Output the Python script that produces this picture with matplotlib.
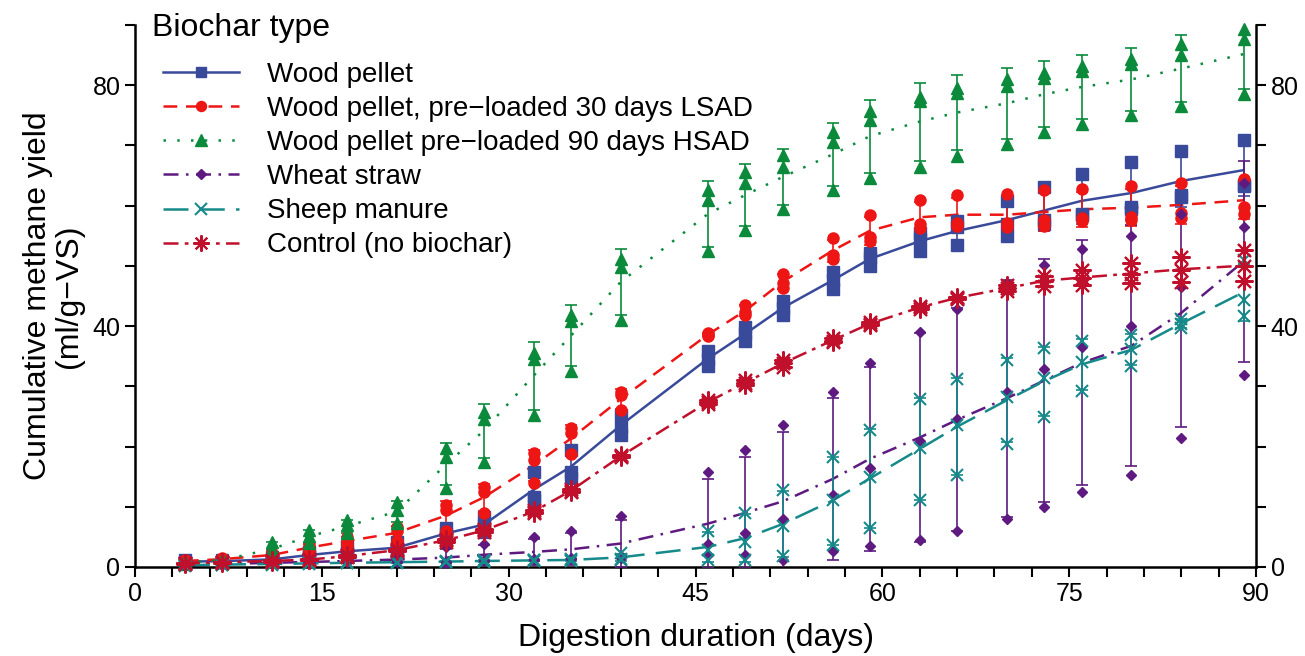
import numpy as np
import matplotlib
matplotlib.use("Agg")
import matplotlib.pyplot as plt
from matplotlib.lines import Line2D
from matplotlib.ticker import MultipleLocator

plt.rcParams['font.family'] = ['Liberation Sans', 'DejaVu Sans']

days = [4, 7, 11, 14, 17, 21, 25, 28, 32, 35, 39, 46, 49, 52, 56, 59, 63, 66, 70, 73, 76, 80, 84, 89]

# replicate readings (ml/g-VS), three replicates per series
wood_pellet = [
    [1.2, 1.2, 1.6, 2.5, 3.4, 4.2, 6.4, 8.3, 15.7, 19.4, 25.3, 35.9, 39.9, 44.2, 49.0, 52.2, 55.4, 57.5, 60.8, 63.1, 65.3, 67.2, 69.0, 70.9],
    [0.8, 0.9, 1.2, 1.8, 2.3, 2.8, 5.5, 7.0, 11.6, 15.8, 23.3, 34.6, 38.8, 43.0, 47.6, 51.3, 54.5, 56.4, 57.0, 57.6, 58.6, 59.7, 61.8, 63.5],
    [0.7, 0.8, 1.0, 1.7, 2.1, 2.6, 4.9, 5.8, 11.2, 14.8, 22.0, 33.3, 37.5, 41.9, 46.2, 50.0, 52.4, 53.5, 55.0, 56.9, 58.5, 59.4, 61.5, 63.3],
]
lsad_30 = [
    [1.2, 1.5, 2.4, 3.8, 5.0, 6.7, 10.3, 13.3, 18.9, 23.0, 29.1, 38.9, 43.5, 48.7, 54.6, 58.5, 61.0, 61.7, 61.9, 62.6, 62.7, 63.2, 63.7, 64.4],
    [1.0, 1.3, 2.0, 3.2, 4.3, 5.9, 9.5, 12.4, 17.8, 22.2, 28.5, 38.6, 42.4, 47.1, 51.8, 54.8, 56.9, 57.2, 57.2, 57.6, 58.0, 58.2, 58.8, 59.7],
    [0.8, 1.1, 1.6, 2.7, 3.6, 4.4, 5.9, 9.0, 13.9, 18.8, 26.1, 38.3, 41.8, 46.3, 51.2, 54.2, 56.3, 56.6, 56.4, 56.6, 57.5, 57.6, 57.9, 58.6],
]
hsad_90 = [
    [1.0, 1.4, 4.2, 6.1, 7.8, 10.8, 19.8, 25.8, 35.5, 41.8, 51.2, 62.6, 65.6, 68.4, 72.3, 75.8, 78.1, 79.5, 81.0, 82.1, 83.2, 84.4, 86.8, 89.4],
    [0.7, 1.1, 3.0, 5.2, 6.9, 9.5, 18.2, 24.6, 34.5, 40.8, 49.8, 60.9, 63.8, 66.4, 70.6, 74.2, 77.3, 78.7, 79.8, 81.2, 82.3, 83.5, 85.0, 87.6],
    [0.5, 0.9, 1.8, 4.0, 5.6, 7.3, 13.2, 17.5, 25.3, 32.6, 41.0, 52.4, 55.9, 59.5, 62.6, 64.6, 66.5, 68.2, 70.2, 72.2, 73.6, 75.0, 76.5, 78.5],
]
wheat_straw = [
    [0.4, 0.6, 0.8, 1.0, 1.3, 1.8, 3.3, 3.9, 5.0, 6.0, 8.4, 15.7, 19.4, 23.6, 29.1, 33.9, 39.1, 42.9, 47.2, 50.1, 52.8, 54.9, 58.6, 63.8],
    [0.3, 0.5, 0.7, 0.8, 0.9, 1.0, 0.8, 1.2, 1.3, 1.5, 1.8, 3.9, 5.6, 7.9, 12.0, 16.5, 20.9, 24.5, 29.0, 32.8, 36.5, 40.0, 46.5, 56.5],
    [0.2, 0.4, 0.6, 0.7, 0.8, 0.9, 0.6, 1.0, 1.2, 1.3, 1.5, 2.0, 2.0, 1.2, 2.7, 3.5, 4.5, 5.9, 7.9, 10.0, 12.4, 15.3, 21.5, 31.9],
]
sheep_manure = [
    [0.4, 0.5, 0.6, 0.7, 0.8, 0.9, 1.0, 1.1, 1.2, 1.3, 2.3, 6.0, 9.0, 12.8, 18.3, 22.7, 27.9, 31.2, 34.4, 36.3, 37.6, 38.6, 41.2, 50.9],
    [0.3, 0.4, 0.5, 0.6, 0.7, 0.8, 0.9, 1.0, 1.1, 1.2, 1.4, 2.8, 4.2, 6.8, 11.1, 15.0, 19.8, 23.5, 28.3, 31.4, 34.0, 36.2, 40.4, 44.4],
    [0.2, 0.3, 0.4, 0.5, 0.6, 0.7, 0.8, 0.9, 1.0, 1.0, 1.1, 1.2, 1.2, 1.8, 3.7, 6.4, 11.1, 15.2, 20.4, 24.9, 29.3, 33.4, 39.7, 41.6],
]
control = [
    [0.7, 0.9, 1.1, 1.4, 2.0, 3.0, 4.7, 6.3, 9.4, 12.9, 18.6, 27.7, 31.0, 34.4, 38.0, 40.6, 43.3, 44.9, 46.8, 48.4, 49.4, 50.4, 51.5, 52.6],
    [0.6, 0.8, 1.0, 1.2, 1.8, 2.8, 4.5, 6.1, 9.2, 12.7, 18.4, 27.4, 30.6, 33.8, 37.6, 40.4, 43.1, 44.7, 46.3, 47.5, 48.0, 48.7, 49.4, 50.0],
    [0.5, 0.7, 0.9, 1.1, 1.6, 2.6, 4.2, 5.8, 9.0, 12.4, 18.2, 27.1, 30.2, 33.2, 37.3, 40.2, 42.9, 44.5, 45.8, 46.7, 46.8, 47.1, 47.4, 47.5],
]

labels = ["Wood pellet", "Wood pellet, pre\u2212loaded 30 days LSAD", "Wood pellet pre\u2212loaded 90 days HSAD",
          "Wheat straw", "Sheep manure", "Control (no biochar)"]
legend_title = "Biochar type"
series = [wood_pellet, lsad_30, hsad_90, wheat_straw, sheep_manure, control]

styles = [
    dict(color='#3a4a9a', ls='-', marker='s', ms=8, mew=1.0),
    dict(color='#ee1515', ls=(0, (5.5, 3.5)), marker='o', ms=8, mew=1.0),
    dict(color='#0b8a3c', ls=(0, (1, 4.5)), marker='^', ms=9, mew=1.0),
    dict(color='#5e1a80', ls=(0, (6, 3, 1, 3)), marker='D', ms=5.5, mew=1.0),
    dict(color='#168a8a', ls=(0, (10, 4.5)), marker='x', ms=9, mew=1.5),
    dict(color='#c0102c', ls=(0, (6, 2.5, 1.5, 2.5)), marker=(8, 2, 0), ms=13, mew=1.5),
]

fig = plt.figure(figsize=(13.05, 6.56), dpi=100)
ax = fig.add_axes([135/1305, 1-567/656, (1256-135)/1305, (567-25)/656])

x = np.array(days, dtype=float)
handles = []
for data, st, lab in zip(series, styles, labels):
    arr = np.array(data)
    mean = arr.mean(axis=0)
    sd = arr.std(axis=0, ddof=1)
    ax.plot(x, mean, color=st['color'], ls=st['ls'], lw=1.8, zorder=2)
    ax.errorbar(x, mean, yerr=sd, fmt='none', ecolor=st['color'], elinewidth=1.2,
                capsize=4, capthick=1.2, zorder=3)
    for rep in arr:
        ax.plot(x, rep, ls='none', marker=st['marker'], ms=st['ms'], mew=st['mew'],
                color=st['color'], mec=st['color'], zorder=4, clip_on=False)
    handles.append(Line2D([], [], color=st['color'], ls=st['ls'], lw=1.8, marker=st['marker'],
                          ms=st['ms'] * 0.9, mew=st['mew']))

ax.set_xlim(0, 90)
ax.set_ylim(0, 90)
ax.xaxis.set_major_locator(MultipleLocator(15))
ax.xaxis.set_minor_locator(MultipleLocator(3))
ax.yaxis.set_major_locator(MultipleLocator(40))
ax.yaxis.set_minor_locator(MultipleLocator(10))
ax.tick_params(which='both', direction='out', length=7, width=1.5, labelsize=18,
               right=True, labelright=True, top=False)
ax.tick_params(axis='x', pad=4)
ax.spines['top'].set_visible(False)
for s in ['left', 'right', 'bottom']:
    ax.spines[s].set_linewidth(1.8)

ax.set_xlabel("Digestion duration (days)", fontsize=23, labelpad=12)
ax.set_ylabel("Cumulative methane yield\n(ml/g\u2212VS)", fontsize=23, linespacing=1.05, labelpad=6)

fig.text(152/1305, 1-28/656, legend_title, fontsize=23, ha='left', va='center')
leg = fig.legend(handles=handles, labels=labels, loc='upper left',
                 bbox_to_anchor=(163/1305, 1-62/656), frameon=False, fontsize=20,
                 handlelength=2.75, handletextpad=1.0, labelspacing=0.29, borderpad=0.0,
                 borderaxespad=0.0, numpoints=1)

fig.savefig("out.png", dpi=100)
